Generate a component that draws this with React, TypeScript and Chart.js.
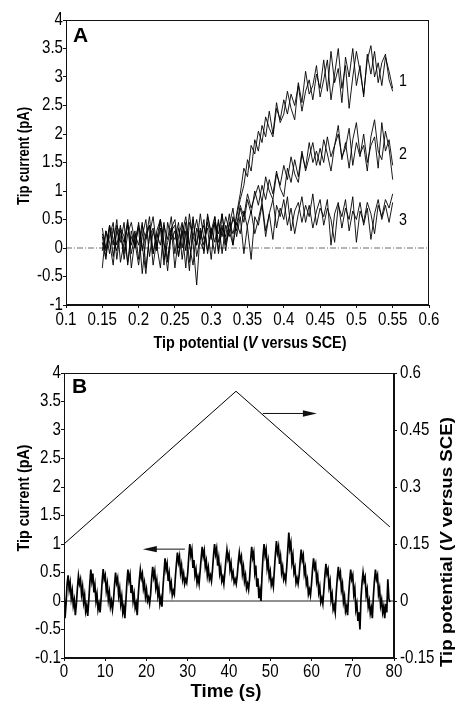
import React, { useEffect, useRef } from "react";
import { Chart, registerables } from "chart.js";

Chart.register(...registerables);

// ---------------- Panel A data ----------------
const A_X_TICKS = [0.1, 0.15, 0.2, 0.25, 0.3, 0.35, 0.4, 0.45, 0.5, 0.55, 0.6];
const A_X_TICK_LABELS = ["0.1", "0.15", "0.2", "0.25", "0.3", "0.35", "0.4", "0.45", "0.5", "0.55", "0.6"];
const A_Y_TICKS = [-1, -0.5, 0, 0.5, 1, 1.5, 2, 2.5, 3, 3.5, 4];
const A_Y_TICK_LABELS = ["-1", "-0.5", "0", "0.5", "1", "1.5", "2", "2.5", "3", "3.5", "4"];

const POTENTIAL_START = 0.15; // V, first sample of each scan
const POTENTIAL_STEP = 0.005; // V between samples

const CURVE1_FWD = [
  -0.35, 0.30, -0.10, 0.35, 0.05, 0.40, -0.20, 0.25, 0.45, 0.10,
  -0.30, 0.20, 0.50, -0.15, 0.30, 0.05, -0.35, 0.40, 0.15, 0.55,
  -0.10, 0.35, 0.00, 0.45, -0.25, 0.20, 0.50, 0.10, -0.05, 0.60,
  0.25, -0.10, 0.45, 0.20, 0.55, 0.30, 0.05,
  0.60, 0.95, 1.40, 1.25, 1.80, 1.65,
  2.05, 1.85, 2.30, 2.10, 1.95, 2.45, 2.25, 2.60, 2.35, 2.70, 2.50, 2.85, 2.40, 2.75, 2.95, 2.60, 3.05, 2.80,
  3.30, 2.75, 3.45, 2.90, 3.15, 2.55, 3.35, 3.00, 3.50, 2.85, 3.20, 2.65, 3.40, 3.05, 3.45, 2.90, 3.25, 3.40, 2.95, 2.75,
];
const CURVE1_REV = [
  0.10, -0.20, 0.40, 0.15, -0.05, 0.35, 0.20, -0.25, 0.30, 0.00,
  0.45, -0.05, 0.25, 0.40, -0.30, 0.15, 0.50, 0.05, -0.20, 0.30,
  0.40, -0.15, 0.25, 0.55, 0.05, -0.30, 0.35, 0.15, 0.50, -0.10,
  0.30, 0.55, 0.10, 0.40, -0.05, 0.45, 0.25,
  0.55, 0.85, 1.10, 1.55, 1.35, 1.90,
  1.70, 2.15, 1.95, 2.40, 2.00, 2.55, 2.20, 2.35, 2.75, 2.45, 2.25, 2.90, 2.55, 3.10, 2.70, 2.85, 3.20, 2.65,
  2.95, 3.30, 2.60, 3.05, 3.50, 2.80, 3.20, 2.45, 3.00, 3.45, 3.10, 2.70, 3.30, 3.55, 3.00, 3.25, 2.85, 3.35, 3.10, 2.80,
];
const CURVE2_FWD = [
  0.20, -0.15, 0.35, 0.05, 0.50, -0.25, 0.10, 0.40, -0.10, 0.25,
  0.05, 0.45, -0.35, 0.20, 0.35, -0.05, 0.50, 0.10, -0.40, 0.25,
  0.15, 0.45, -0.20, 0.30, 0.05, 0.55, -0.15, 0.20, 0.40, -0.05,
  0.35, 0.10, 0.50, -0.10, 0.40, 0.20, 0.55,
  0.30, 0.70, 0.45, 0.85, 0.60, 1.00,
  0.75, 1.10, 0.85, 1.20, 0.95, 1.35, 1.05, 0.90, 1.40, 1.15, 1.55, 1.25, 1.70, 1.35, 1.60, 1.85, 1.45, 1.75,
  1.50, 1.95, 1.60, 1.80, 2.15, 1.55, 1.85, 1.40, 1.90, 2.20, 1.65, 1.80, 1.35, 1.95, 2.25, 1.70, 1.55, 2.05, 1.75, 1.20,
];
const CURVE2_REV = [
  -0.05, 0.30, 0.10, -0.30, 0.40, 0.20, -0.10, 0.45, 0.05, 0.30,
  -0.20, 0.40, 0.15, 0.55, -0.10, 0.25, 0.05, 0.45, -0.25, 0.35,
  0.50, 0.00, 0.30, -0.35, 0.45, 0.20, 0.05, 0.60, 0.15, 0.35,
  -0.20, 0.45, 0.25, 0.60, 0.05, 0.30, 0.50,
  0.40, 0.75, 0.55, 0.95, 0.70, 0.90,
  1.10, 0.80, 1.25, 1.00, 0.85, 1.30, 1.10, 1.45, 1.20, 1.60, 1.30, 1.15, 1.65, 1.40, 1.85, 1.50, 1.70, 1.45,
  1.90, 1.65, 1.35, 1.80, 2.00, 1.60, 1.75, 2.10, 1.45, 1.85, 1.60, 2.00, 1.50, 1.80, 1.95, 1.40, 2.20, 1.70, 1.90, 1.45,
];
const CURVE3_FWD = [
  0.25, 0.00, 0.40, -0.15, 0.30, 0.10, 0.45, -0.30, 0.20, 0.05,
  0.35, -0.45, 0.15, 0.40, -0.10, 0.30, 0.50, -0.20, 0.10, 0.35,
  -0.35, 0.20, 0.45, -0.05, 0.60, 0.10, -0.65, 0.30, 0.05, 0.45,
  0.15, 0.55, -0.10, 0.35, 0.20, 0.60, 0.05,
  0.45, 0.25, 0.65, 0.35, -0.20, 0.55,
  0.40, 0.75, 0.20, 0.60, 0.85, 0.35, 0.70, 0.50, 0.90, 0.30, 0.65, 0.80, 0.45, 0.75, 0.55, 0.95, 0.40, 0.70,
  0.55, 0.85, 0.05, 0.60, 0.80, 0.35, 0.70, 0.50, 0.90, 0.10, 0.65, 0.45, 0.80, 0.60, 0.25, 0.75, 0.55, 0.85, 0.70, 0.95,
];
const CURVE3_REV = [
  0.35, -0.05, 0.20, 0.45, -0.20, 0.30, 0.10, 0.50, -0.35, 0.15,
  0.40, 0.05, -0.45, 0.25, 0.55, 0.00, 0.35, -0.30, 0.45, 0.15,
  0.30, -0.15, 0.40, 0.20, -0.40, 0.50, 0.05, 0.35, -0.10, 0.55,
  0.25, 0.45, -0.05, 0.60, 0.10, 0.40, 0.70,
  0.20, 0.55, -0.10, 0.40, 0.65, 0.25,
  0.50, 0.80, 0.30, 0.60, 0.15, 0.75, 0.55, 0.85, 0.40, 0.70, 0.25, 0.60, 0.90, 0.45, 0.75, 0.35, 0.65, 0.85,
  0.40, 0.70, 0.50, 0.10, 0.75, 0.55, 0.85, 0.30, 0.65, 0.50, 0.80, 0.40, 0.70, 0.15, 0.60, 0.85, 0.50, 0.75, 0.45, 0.80,
];
const A_SCANS = [CURVE1_FWD, CURVE1_REV, CURVE2_FWD, CURVE2_REV, CURVE3_FWD, CURVE3_REV];

const CURVE_LABELS = ["1", "2", "3"];
const CURVE_LABEL_X = 0.564;
const CURVE_LABEL_Y = [2.93, 1.65, 0.49];

// ---------------- Panel B data ----------------
const B_X_TICKS = [0, 10, 20, 30, 40, 50, 60, 70, 80];
const B_X_TICK_LABELS = ["0", "10", "20", "30", "40", "50", "60", "70", "80"];
const B_Y_TICKS = [-1, -0.5, 0, 0.5, 1, 1.5, 2, 2.5, 3, 3.5, 4];
const B_Y_TICK_LABELS = ["-0.1", "-0.5", "0", "0.5", "1", "1.5", "2", "2.5", "3", "3.5", "4"];
const B_Y2_TICKS = [-0.15, 0, 0.15, 0.3, 0.45, 0.6];
const B_Y2_TICK_LABELS = ["-0.15", "0", "0.15", "0.3", "0.45", "0.6"];

const TIME_STEP = 0.25; // s between current samples
const TIP_CURRENT_B = [
  0.18, -0.30, -0.05, 0.30, 0.45, 0.20, 0.32, 0.05, 0.18, -0.08, 0.02, -0.25,
  -0.05, 0.22, 0.44, 0.30, 0.38, 0.12, 0.25, -0.02, 0.10, -0.18, -0.08, -0.26,
  0.00, 0.30, 0.55, 0.35, 0.48, 0.15, 0.28, 0.00, 0.12, -0.15, -0.05, -0.20,
  0.05, 0.35, 0.56, 0.38, 0.45, 0.18, 0.30, 0.02, 0.15, -0.10, 0.00, -0.15,
  0.02, 0.28, 0.50, 0.32, 0.40, 0.10, 0.22, -0.05, 0.08, -0.20, -0.10, -0.30,
  0.00, 0.32, 0.55, 0.36, 0.46, 0.14, 0.28, 0.00, 0.12, -0.12, -0.04, -0.25,
  0.10, 0.36, 0.55, 0.40, 0.48, 0.22, 0.32, 0.08, 0.20, 0.00, 0.06, -0.05,
  0.12, 0.40, 0.60, 0.42, 0.52, 0.24, 0.36, 0.10, 0.22, -0.05, 0.05, -0.10,
  0.25, 0.50, 0.75, 0.55, 0.65, 0.35, 0.48, 0.22, 0.32, 0.10, 0.18, 0.12,
  0.42, 0.65, 0.85, 0.68, 0.78, 0.50, 0.62, 0.38, 0.48, 0.30, 0.38, 0.32,
  0.50, 0.78, 1.00, 0.80, 0.90, 0.58, 0.72, 0.45, 0.55, 0.32, 0.42, 0.30,
  0.52, 0.75, 0.95, 0.78, 0.88, 0.60, 0.70, 0.45, 0.58, 0.38, 0.45, 0.35,
  0.55, 0.80, 1.00, 0.82, 0.92, 0.62, 0.75, 0.48, 0.58, 0.35, 0.42, 0.30,
  0.50, 0.72, 0.90, 0.74, 0.82, 0.55, 0.66, 0.42, 0.50, 0.32, 0.38, 0.30,
  0.45, 0.68, 0.85, 0.70, 0.78, 0.48, 0.60, 0.35, 0.45, 0.22, 0.30, 0.20,
  0.40, 0.72, 0.95, 0.76, 0.85, 0.50, 0.62, 0.25, 0.40, 0.05, 0.18, 0.00,
  0.45, 0.78, 1.00, 0.80, 0.90, 0.58, 0.70, 0.42, 0.52, 0.28, 0.36, 0.25,
  0.55, 0.82, 1.05, 0.85, 0.95, 0.65, 0.78, 0.50, 0.60, 0.38, 0.45, 0.35,
  0.60, 0.90, 1.20, 0.92, 1.02, 0.68, 0.80, 0.50, 0.58, 0.32, 0.40, 0.30,
  0.45, 0.70, 0.90, 0.72, 0.80, 0.48, 0.58, 0.30, 0.38, 0.12, 0.20, 0.10,
  0.30, 0.55, 0.75, 0.58, 0.65, 0.35, 0.45, 0.15, 0.25, -0.02, 0.05, -0.05,
  0.20, 0.45, 0.65, 0.48, 0.55, 0.25, 0.35, 0.02, 0.12, -0.15, -0.08, -0.20,
  0.15, 0.40, 0.60, 0.42, 0.50, 0.20, 0.30, -0.02, 0.08, -0.18, -0.10, -0.25,
  0.10, 0.35, 0.55, 0.38, 0.45, 0.12, 0.22, -0.15, -0.05, -0.35, -0.20, -0.50,
  0.05, 0.32, 0.50, 0.35, 0.42, 0.10, 0.20, -0.10, 0.00, -0.22, -0.12, -0.30,
  0.08, 0.35, 0.55, 0.38, 0.45, 0.12, 0.22, -0.08, 0.02, -0.20, -0.10, -0.30,
  -0.05, -0.20, 0.38, 0.05, -0.02,
];

const RAMP_TIME = [0, 41.7, 79];
const RAMP_POTENTIAL = [0.15, 0.552, 0.195];

// arrows: [fromX, toX, y] in (time, current) units
const ARROW_TO_CURRENT = [29.3, 19.1, 0.91];
const ARROW_TO_POTENTIAL = [48.2, 61.3, 3.29];

// ---------------- helpers ----------------
const TEXT_FAMILY = "'Liberation Sans', Arial, Helvetica, sans-serif";
const SQUEEZE = 0.84;
const INK = "#111";

type Seg = { text: string; italic?: boolean };

function drawTitle(ctx: CanvasRenderingContext2D, segs: Seg[], cx: number, cy: number, size: number, length: number, rotate: boolean) {
  ctx.save();
  ctx.translate(cx, cy);
  if (rotate) ctx.rotate(-Math.PI / 2);
  const fonts = segs.map((s) => `${s.italic ? "italic " : ""}bold ${size}px ${TEXT_FAMILY}`);
  let total = 0;
  const widths = segs.map((s, i) => {
    ctx.font = fonts[i];
    const w = ctx.measureText(s.text).width;
    total += w;
    return w;
  });
  ctx.scale(length / total, 1);
  ctx.fillStyle = "#000";
  ctx.textAlign = "left";
  ctx.textBaseline = "middle";
  let x = -total / 2;
  segs.forEach((s, i) => {
    ctx.font = fonts[i];
    ctx.fillText(s.text, x, 0);
    x += widths[i];
  });
  ctx.restore();
}

// narrow text: anchor 'l' (left edge), 'r' (right edge) or 'c' (centre)
function narrowText(ctx: CanvasRenderingContext2D, text: string, x: number, y: number, anchor: string, size: number) {
  ctx.save();
  ctx.font = `${size}px ${TEXT_FAMILY}`;
  const w = ctx.measureText(text).width * SQUEEZE;
  const left = anchor === "l" ? x : anchor === "r" ? x - w : x - w / 2;
  ctx.translate(left, y);
  ctx.scale(SQUEEZE, 1);
  ctx.fillStyle = "#000";
  ctx.textAlign = "left";
  ctx.textBaseline = "middle";
  ctx.fillText(text, 0, 0);
  ctx.restore();
}

function drawTickLabels(chart: any, axisId: string, labels: string[], side: string, offset: number) {
  const scale = chart.scales[axisId];
  const ctx = chart.ctx;
  scale.ticks.forEach((t: any, i: number) => {
    const p = scale.getPixelForValue(t.value);
    if (side === "bottom") narrowText(ctx, labels[i], p, scale.top + offset, "c", 18);
    else if (side === "left") narrowText(ctx, labels[i], scale.right - offset, p, "r", 18);
    else narrowText(ctx, labels[i], scale.left + offset, p, "l", 18);
  });
}

function fixedAxis(values: number[], min: number, max: number, position: string, size: number, horizontal: boolean) {
  return {
    type: "linear",
    position,
    min,
    max,
    afterBuildTicks: (s: any) => {
      s.ticks = values.map((v) => ({ value: v }));
    },
    afterFit: (s: any) => {
      if (horizontal) s.height = size;
      else s.width = size;
    },
    border: { display: true, color: INK, width: 1 },
    grid: { display: true, drawOnChartArea: false, drawTicks: true, tickLength: 3, color: INK, lineWidth: 1 },
    ticks: { display: false, autoSkip: false, maxRotation: 0, minRotation: 0 },
    title: { display: false },
  };
}

const framePlugin = {
  id: "frame",
  afterDatasetsDraw(chart: any) {
    const { ctx, chartArea } = chart;
    const l = Math.round(chartArea.left) + 0.5;
    const t = Math.round(chartArea.top) + 0.5;
    const r = Math.round(chartArea.right) - 0.5;
    const b = Math.round(chartArea.bottom) - 0.5;
    ctx.save();
    ctx.strokeStyle = INK;
    ctx.lineWidth = 1;
    ctx.strokeRect(l, t, r - l, b - t);
    ctx.restore();
  },
};

function drawArrow(chart: any, spec: number[]) {
  const { ctx, scales } = chart;
  const x0 = scales.x.getPixelForValue(spec[0]);
  const x1 = scales.x.getPixelForValue(spec[1]);
  const y = scales.y.getPixelForValue(spec[2]);
  const dir = Math.sign(x1 - x0);
  const head = 14;
  ctx.save();
  ctx.strokeStyle = INK;
  ctx.fillStyle = INK;
  ctx.lineWidth = 1;
  ctx.beginPath();
  ctx.moveTo(x0, y);
  ctx.lineTo(x1 - dir * head * 0.8, y);
  ctx.stroke();
  ctx.beginPath();
  ctx.moveTo(x1, y);
  ctx.lineTo(x1 - dir * head, y - 3.2);
  ctx.lineTo(x1 - dir * head, y + 3.2);
  ctx.closePath();
  ctx.fill();
  ctx.restore();
}

export default function App() {
  const refA = useRef<HTMLCanvasElement>(null);
  const refB = useRef<HTMLCanvasElement>(null);

  useEffect(() => {
    const scanData = A_SCANS.map((scan) => scan.map((v, i) => ({ x: POTENTIAL_START + i * POTENTIAL_STEP, y: v })));
    const annotA = {
      id: "annotA",
      afterDraw(chart: any) {
        const { ctx, scales, chartArea } = chart;
        ctx.save();
        ctx.fillStyle = "#000";
        ctx.font = `bold 21px ${TEXT_FAMILY}`;
        ctx.textAlign = "left";
        ctx.textBaseline = "alphabetic";
        ctx.fillText("A", chartArea.left + 7, chartArea.top + 22);
        ctx.restore();
        CURVE_LABELS.forEach((lab, i) => {
          narrowText(ctx, lab, scales.x.getPixelForValue(CURVE_LABEL_X), scales.y.getPixelForValue(CURVE_LABEL_Y[i]), "c", 17);
        });
        drawTickLabels(chart, "x", A_X_TICK_LABELS, "bottom", 15);
        drawTickLabels(chart, "y", A_Y_TICK_LABELS, "left", 3);
        drawTitle(ctx, [{ text: "Tip current (pA)" }], 25, 156, 16, 98, true);
        drawTitle(ctx, [{ text: "Tip potential (" }, { text: "V", italic: true }, { text: " versus SCE)" }], 250, 343, 17, 193, false);
      },
    };
    const chartA = new Chart(refA.current as HTMLCanvasElement, {
      type: "line",
      data: {
        datasets: [
          ...scanData.map((d) => ({
            data: d,
            borderColor: "#000",
            borderWidth: 0.9,
            pointRadius: 0,
            tension: 0,
            fill: false,
          })),
          {
            data: [
              { x: 0.1, y: 0 },
              { x: 0.6, y: 0 },
            ],
            borderColor: "#444",
            borderWidth: 0.8,
            borderDash: [6, 2, 1, 2],
            pointRadius: 0,
            fill: false,
          },
        ],
      },
      options: {
        animation: false,
        responsive: false,
        devicePixelRatio: 1,
        events: [],
        layout: { padding: { top: 20, right: 27, left: 0, bottom: 0 } },
        scales: {
          x: fixedAxis(A_X_TICKS, 0.1, 0.6, "bottom", 47, true),
          y: fixedAxis(A_Y_TICKS, -1, 4, "left", 66, false),
        },
        plugins: { legend: { display: false }, tooltip: { enabled: false }, title: { display: false } },
      } as any,
      plugins: [framePlugin, annotA],
    } as any);

    const currentData = TIP_CURRENT_B.map((v, i) => ({ x: i * TIME_STEP, y: v }));
    const rampData = RAMP_TIME.map((t, i) => ({ x: t, y: RAMP_POTENTIAL[i] }));
    const annotB = {
      id: "annotB",
      afterDraw(chart: any) {
        const { ctx, chartArea } = chart;
        ctx.save();
        ctx.fillStyle = "#000";
        ctx.font = `bold 21px ${TEXT_FAMILY}`;
        ctx.textAlign = "left";
        ctx.textBaseline = "alphabetic";
        ctx.fillText("B", chartArea.left + 8, chartArea.top + 20);
        ctx.restore();
        drawArrow(chart, ARROW_TO_CURRENT);
        drawArrow(chart, ARROW_TO_POTENTIAL);
        drawTickLabels(chart, "x", B_X_TICK_LABELS, "bottom", 14);
        drawTickLabels(chart, "y", B_Y_TICK_LABELS, "left", 3);
        drawTickLabels(chart, "y2", B_Y2_TICK_LABELS, "right", 6);
        drawTitle(ctx, [{ text: "Tip current (pA)" }], 24, 146, 17, 107, true);
        drawTitle(ctx, [{ text: "Tip potential (" }, { text: "V", italic: true }, { text: " versus SCE)" }], 448, 190, 16, 250, true);
        drawTitle(ctx, [{ text: "Time (s)" }], 226, 340, 18, 71, false);
      },
    };
    const chartB = new Chart(refB.current as HTMLCanvasElement, {
      type: "line",
      data: {
        datasets: [
          {
            data: currentData,
            yAxisID: "y",
            borderColor: "#000",
            borderWidth: 1.7,
            pointRadius: 0,
            tension: 0,
            fill: false,
          },
          {
            data: rampData,
            yAxisID: "y2",
            borderColor: "#000",
            borderWidth: 1,
            pointRadius: 0,
            tension: 0,
            fill: false,
          },
          {
            data: [
              { x: 0, y: 0 },
              { x: 80, y: 0 },
            ],
            yAxisID: "y",
            borderColor: "#222",
            borderWidth: 1,
            pointRadius: 0,
            fill: false,
          },
        ],
      },
      options: {
        animation: false,
        responsive: false,
        devicePixelRatio: 1,
        events: [],
        layout: { padding: { top: 21, right: 0, left: 0, bottom: 0 } },
        scales: {
          x: fixedAxis(B_X_TICKS, 0, 80, "bottom", 46, true),
          y: fixedAxis(B_Y_TICKS, -1, 4, "left", 64, false),
          y2: fixedAxis(B_Y2_TICKS, -0.15, 0.6, "right", 62, false),
        },
        plugins: { legend: { display: false }, tooltip: { enabled: false }, title: { display: false } },
      } as any,
      plugins: [framePlugin, annotB],
    } as any);

    return () => {
      chartA.destroy();
      chartB.destroy();
    };
  }, []);

  return (
    <div style={{ position: "absolute", left: 0, top: 0, width: 456, height: 704, background: "#fff" }}>
      <canvas ref={refA} width={456} height={352} style={{ position: "absolute", left: 0, top: 0, width: 456, height: 352 }} />
      <canvas ref={refB} width={456} height={352} style={{ position: "absolute", left: 0, top: 352, width: 456, height: 352 }} />
    </div>
  );
}
